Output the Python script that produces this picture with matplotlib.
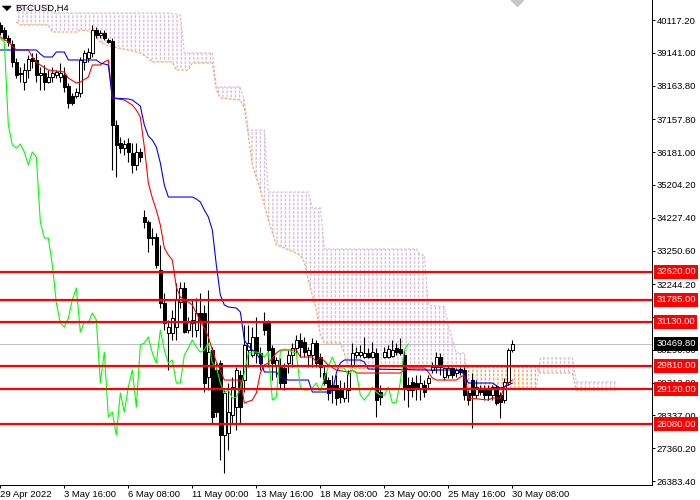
import numpy as np
import matplotlib
matplotlib.use('Agg')
import matplotlib.pyplot as plt

plt.rcParams['font.family'] = ['Liberation Sans', 'DejaVu Sans']
plt.rcParams['hatch.linewidth'] = 1.0

symbol = 'BTCUSD,H4'

# H4 candles, 29 Apr 2022 00:00 .. 30 May 2022 08:00
opens = [39968, 39819, 39581, 39402, 38866, 38538, 38270, 38628, 38985, 38926,
         38479, 38538, 38270, 38419, 38479, 38419, 38479, 38151, 37853, 37853,
         37943, 38866, 38985, 39134, 39819, 39670, 39730, 39521, 39492, 36989,
         36453, 36304, 36453, 36155, 35798, 36185, 34249, 34100, 33653, 33653,
         32669, 31687, 30793, 30793, 30972, 31716, 32133, 30882, 31180, 30882,
         31389, 31389, 29482, 30286, 29690, 29899, 27754, 27814, 28350, 28588,
         29541, 29392, 30286, 30137, 30674, 30197, 31121, 31121, 30346, 29839,
         29839, 29750, 29899, 30137, 30346, 30584, 30525, 30137, 30137, 30495,
         30078, 29601, 29392, 29244, 29244, 29095, 28856, 29095, 29839, 30137,
         30137, 30078, 30197, 30078, 30197, 29035, 30078, 30078, 30108, 30346,
         30316, 30137, 29244, 29333, 29303, 29154, 29244, 29303, 29690, 29780,
         30078, 29482, 29541, 29750, 29601, 29720, 29690, 29005, 29392, 28946,
         29154, 29095, 29095, 28946, 29184, 28946, 28797, 29333, 30286]
highs = [40058, 39909, 39670, 39521, 38985, 38717, 38836, 39075, 39134, 39134,
         38717, 38777, 38628, 38717, 38628, 38836, 38717, 38240, 37943, 38092,
         39015, 39224, 39283, 39968, 39909, 39819, 39819, 39581, 39581, 37138,
         36632, 36542, 36602, 36453, 36453, 36304, 34457, 34159, 33921, 33772,
         33414, 31984, 31180, 31478, 32282, 32312, 32312, 31270, 31776, 31836,
         31984, 31627, 32074, 30376, 29899, 29988, 29095, 29303, 29482, 29780,
         29690, 31031, 31031, 30972, 31270, 30376, 31419, 31180, 30436, 30078,
         30048, 29899, 30286, 30495, 30733, 30793, 30674, 30376, 30644, 30584,
         30197, 29839, 29482, 29541, 29541, 29392, 29333, 29690, 30495, 30376,
         30436, 30674, 30346, 30525, 30346, 29244, 30376, 30436, 30584, 30495,
         30644, 30286, 29482, 29482, 29541, 29541, 29392, 29541, 29929, 30227,
         30197, 29780, 29839, 29780, 29750, 29780, 29780, 29095, 29601, 29392,
         29244, 29244, 29244, 29244, 29244, 29035, 29452, 30346, 30584]
lows = [39670, 39521, 39343, 38717, 38389, 38270, 38032, 38389, 38687, 38270,
        38032, 38032, 38240, 38270, 38389, 38270, 37972, 37496, 37585, 37794,
        37823, 38628, 38866, 39015, 39581, 39581, 39521, 39432, 35649, 35440,
        36155, 36095, 35887, 35559, 35649, 35887, 33921, 33206, 33414, 32729,
        31538, 30882, 29690, 30584, 30584, 31538, 30793, 30793, 30674, 30674,
        30376, 29035, 29095, 28112, 28290, 27009, 26622, 27307, 28112, 27903,
        28112, 29035, 29780, 30078, 29899, 29690, 30733, 29780, 29392, 29482,
        29154, 29095, 29601, 29780, 30197, 30078, 30078, 29780, 29780, 29780,
        29482, 29244, 28797, 28707, 28648, 28707, 28737, 28737, 29780, 30048,
        30078, 30048, 30048, 30048, 28290, 28648, 30048, 30048, 30078, 30137,
        30137, 28797, 28588, 28886, 28797, 28797, 28886, 29154, 29601, 29601,
        29541, 29392, 29452, 29452, 29482, 29541, 28797, 28648, 27963, 28856,
        28946, 28797, 28797, 28797, 28648, 28261, 28707, 29244, 30227]
closes = [39760, 39581, 39462, 38866, 38479, 38509, 38628, 38955, 38896, 38479,
          38538, 38270, 38419, 38538, 38568, 38538, 38121, 37645, 37645, 37972,
          38926, 39134, 39164, 39819, 39670, 39730, 39581, 39462, 36989, 36393,
          36304, 36423, 36185, 35798, 36185, 36036, 34100, 33623, 33623, 32818,
          31687, 31091, 30972, 31240, 31776, 32133, 30823, 31121, 31091, 31389,
          31180, 29303, 30227, 28290, 28439, 27754, 29005, 28439, 29184, 29690,
          28588, 30436, 30495, 30674, 30197, 29899, 30882, 30286, 29899, 29988,
          29303, 29303, 30137, 30346, 30584, 30376, 30227, 30286, 30495, 29899,
          29780, 29303, 29005, 29095, 28856, 28886, 29154, 29601, 30197, 30227,
          30227, 30197, 30078, 30227, 28797, 28886, 30227, 30316, 30286, 30227,
          30197, 29184, 29095, 29095, 29154, 29303, 29035, 29452, 29780, 30078,
          29780, 29750, 29750, 29541, 29690, 29631, 28946, 28797, 28946, 29184,
          29035, 28946, 28946, 29184, 28707, 28737, 29333, 30286, 30469.8]

# Ichimoku lines as (bar, price)
tenkan_points = [(0, 39611), (2, 39462), (4, 39224), (7, 39224), (8, 39015), (9, 38866),
                 (10, 38777), (12, 38628), (16, 38568), (17, 38389), (19, 38240), (20, 38270),
                 (22, 38419), (23, 38777), (25, 38777), (26, 38866), (27, 38926), (28, 37794),
                 (31, 37734), (33, 37585), (34, 37436), (35, 37227), (36, 36334), (37, 35262),
                 (38, 34815), (39, 34457), (40, 34010), (41, 33325), (42, 33117), (43, 32967),
                 (44, 32164), (45, 31865), (47, 31716), (48, 31627), (49, 31389), (50, 31151),
                 (51, 30942), (52, 30674), (53, 30286), (54, 29929), (55, 29690), (56, 29392),
                 (60, 29392), (61, 28707), (63, 28797), (64, 29005), (65, 29601), (66, 29839),
                 (67, 29899), (69, 30197), (70, 30286), (74, 30286), (75, 30078), (78, 30078),
                 (79, 29929), (80, 30078), (82, 29839), (84, 29690), (87, 29631), (88, 29690),
                 (89, 29601), (100, 29601), (101, 29690), (102, 29750), (106, 29750), (107, 29631),
                 (108, 29452), (109, 29392), (114, 29392), (115, 29482), (116, 29541), (117, 28856),
                 (122, 28797), (123, 28856), (125, 28856), (126, 29184), (127, 29303), (128, 29392)]
kijun_points = [(0, 39224), (9, 39224), (10, 39104), (11, 39015), (13, 39015), (14, 39164),
                (16, 39164), (17, 38926), (24, 38926), (25, 38836), (27, 38777), (28, 37794),
                (32, 37764), (33, 37734), (34, 37645), (35, 37555), (36, 36989), (37, 36662),
                (38, 36542), (39, 36334), (40, 35858), (41, 35202), (42, 34844), (48, 34844),
                (49, 34785), (50, 34695), (51, 34457), (52, 34249), (53, 33861), (54, 32818),
                (55, 31925), (56, 31627), (57, 31568), (59, 31538), (60, 31419), (61, 30584),
                (62, 30406), (63, 30286), (64, 30197), (65, 29988), (66, 29631), (69, 29631),
                (70, 29482), (72, 29392), (77, 29392), (78, 29035), (83, 29035), (84, 29601),
                (85, 29899), (86, 29988), (90, 29988), (91, 29929), (92, 29720), (107, 29690),
                (115, 29690), (116, 29541), (117, 29303), (123, 29303), (125, 29154), (126, 29184),
                (128, 29303)]
# (bar, senkou span A, senkou span B)
cloud_points = [(4, 40058, 40564), (5, 39968, 40564), (12, 39968, 40564), (13, 39760, 40326),
                (19, 39760, 40326), (20, 39819, 40326), (22, 39790, 40326), (23, 39730, 40326),
                (25, 39462, 40326), (27, 39343, 40326), (32, 39224, 40326), (35, 39134, 40326),
                (37, 38985, 40326), (38, 38866, 40326), (42, 38866, 40326), (43, 38866, 40296),
                (44, 38628, 40296), (45, 38628, 40266), (46, 38628, 39134), (47, 38628, 39134),
                (48, 38836, 39134), (53, 38836, 39134), (54, 38032, 38121), (55, 37794, 38121),
                (60, 37734, 38121), (61, 37496, 37734), (62, 36691, 36840), (63, 35798, 36840),
                (65, 35053, 36840), (66, 34606, 36840), (67, 34159, 34993), (69, 33414, 34993),
                (71, 33325, 34993), (75, 33117, 34993), (76, 32908, 34993), (77, 32372, 34993),
                (78, 31925, 34517), (79, 31478, 34517), (80, 30733, 34517), (81, 30495, 33295),
                (85, 30495, 33295), (86, 30197, 33295), (87, 29750, 33295), (104, 29690, 33295),
                (105, 29690, 33117), (106, 29690, 33117), (107, 29690, 31627), (111, 29690, 31568),
                (112, 29690, 31031), (113, 29690, 30584), (114, 29690, 30197), (116, 29690, 30197),
                (117, 29780, 29154), (134, 29780, 29154), (135, 29601, 30048), (143, 29601, 30048),
                (144, 29095, 29333), (154, 29095, 29333)]
chikou_shift = 26

levels = [32620, 31785, 31130, 29810, 29120, 28080]
last_price = 30469.80

price_ticks = [40117.20, 39141.00, 38163.80, 37157.80, 36181.00, 35204.20, 34227.40,
               33250.60, 32244.20, 31267.40, 30290.60, 29313.80, 28337.00, 27360.20, 26383.40]
time_ticks = [0, 16, 32, 48, 64, 80, 96, 112, 128]
time_labels = ['29 Apr 2022', '3 May 16:00', '6 May 08:00', '11 May 00:00', '13 May 16:00',
               '18 May 08:00', '23 May 00:00', '25 May 16:00', '30 May 08:00']

px = 0.72  # one pixel in points at 100 dpi
fs = 6.8

fig = plt.figure(figsize=(7, 5), dpi=100)
ax = fig.add_axes([0, 15 / 500, 652 / 700, 485 / 500])

# cloud: dotted vertical hatching between the two spans
cb, sa, sb = (np.array(v, dtype=float) for v in zip(*cloud_points))
bear = sb >= sa
ax.fill_between(cb, sa, sb, where=bear, interpolate=True, facecolor='none',
                edgecolor='#d8bfd8', hatch='||||', linewidth=0, zorder=1)
ax.fill_between(cb, sa, sb, where=~bear, interpolate=True, facecolor='none',
                edgecolor='#f4a460', hatch='||||', linewidth=0, zorder=1)
ax.fill_between(cb, sa, sb, facecolor='none', edgecolor='white', hatch='----',
                linewidth=0, zorder=1.1)
ax.plot(cb, sa, color='#f4a460', lw=px * 1.2, ls=(0, (2, 1.5)), zorder=1.2)
ax.plot(cb, sb, color='#d8bfd8', lw=px * 1.2, ls=(0, (2, 1.5)), zorder=1.2)

# candles
o, h, l, c = (np.array(v, dtype=float) for v in (opens, highs, lows, closes))
bars = np.arange(len(c))
up = c >= o
ax.axhline(last_price, color='#c0c0c0', lw=px, zorder=2)
ax.vlines(bars, l, h, color='black', lw=px * 1.1, zorder=3)
ax.bar(bars, c - o, bottom=o, width=0.6, color=np.where(up, 'white', 'black'),
       edgecolor='black', linewidth=px, zorder=3.5)

# indicator lines
tb, tv = zip(*tenkan_points)
kb, kv = zip(*kijun_points)
ax.plot(tb, tv, color='red', lw=px * 1.1, zorder=4)
ax.plot(kb, kv, color='blue', lw=px * 1.1, zorder=4)
ax.plot(bars[:-chikou_shift], c[chikou_shift:], color='#00ff00', lw=px * 1.1, zorder=4)

# horizontal levels with price boxes on the scale
for lv in levels:
    ax.axhline(lv, color='red', lw=2.2 * px, zorder=5)
    ax.annotate(f'{lv:.2f}', xy=(1, lv), xycoords=('axes fraction', 'data'),
                xytext=(3, 0), textcoords='offset points', ha='left', va='center',
                color='white', fontsize=fs, annotation_clip=False, zorder=6,
                bbox=dict(boxstyle='square,pad=0.25', fc='red', ec='none'))
ax.annotate(f'{last_price:.2f}', xy=(1, last_price), xycoords=('axes fraction', 'data'),
            xytext=(3, 0), textcoords='offset points', ha='left', va='center',
            color='white', fontsize=fs, annotation_clip=False, zorder=6,
            bbox=dict(boxstyle='square,pad=0.25', fc='black', ec='none'))

ax.set_xlim(-0.083, 162.917)
ax.set_ylim(26265, 40713)

for side in ('left', 'top'):
    ax.spines[side].set_visible(False)
for side in ('right', 'bottom'):
    ax.spines[side].set_linewidth(px)
    ax.spines[side].set_color('black')

ax.yaxis.tick_right()
ax.set_yticks(price_ticks)
ax.set_yticklabels([f'{p:.2f}' for p in price_ticks])
ax.tick_params(axis='y', direction='out', length=2.2, width=px, pad=1.2, labelsize=fs)
ax.set_xticks(time_ticks)
ax.set_xticklabels(time_labels, ha='left')
ax.tick_params(axis='x', direction='out', length=2.2, width=px, pad=1.5, labelsize=fs)

# chart caption and shift marker
ax.plot([6 / 652], [1 - 8 / 485], marker=[(-1, 0.5), (1, 0.5), (0, -0.5)], ms=6,
        color='black', transform=ax.transAxes, clip_on=False)
ax.text(15 / 652, 1 - 8 / 485, symbol, transform=ax.transAxes, fontsize=fs,
        ha='left', va='center')
ax.plot([517 / 652], [1], marker='D', ms=6, color='#c8c8c8', transform=ax.transAxes,
        clip_on=True, zorder=2)

fig.savefig('out.png', dpi=100)
